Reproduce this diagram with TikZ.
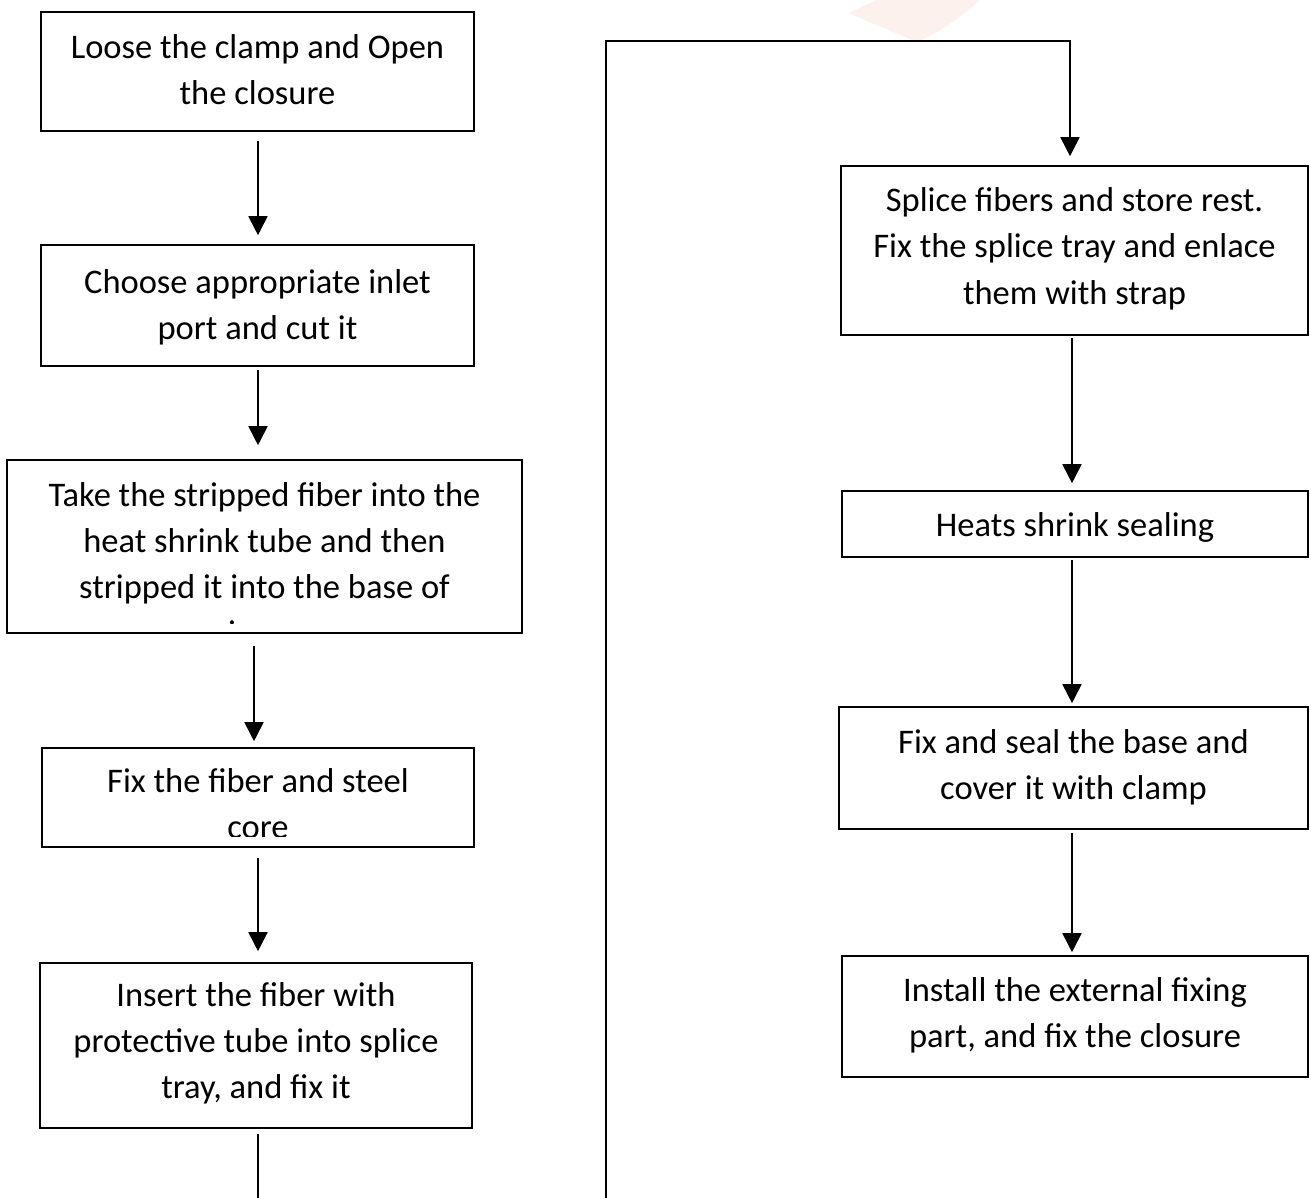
\documentclass[tikz,border=0pt]{standalone}
\usepackage{fontspec}
\setmainfont{Carlito}
\usetikzlibrary{arrows.meta}
\definecolor{wm}{RGB}{253,241,238}
\begin{document}
\begin{tikzpicture}[x=1pt,y=-1pt,
  box/.style={draw, line width=1.6pt, inner sep=0pt},
  txt/.style={anchor=base, inner sep=0pt, font=\fontsize{34.5}{46}\selectfont},
  conn/.style={line width=1.8pt},
  arr/.style={conn, -{Triangle[width=19pt,length=19pt]}}]
\clip (0,0) rectangle (1310,1198);
\fill[white] (0,0) rectangle (1310,1198);
% faint watermark
\fill[wm] (848,13) -- (877,0) -- (980,0) .. controls (960,18) and (940,32) .. (917,42) -- cycle;

% left column boxes
\node[box, minimum width=433pt, minimum height=119pt] (b1) at (257.5,71.5) {};
\node[box, minimum width=433pt, minimum height=121pt] (b2) at (257.5,305.5) {};
\node[box, minimum width=515pt, minimum height=173pt] (b3) at (264.5,546.5) {};
\node[box, minimum width=432pt, minimum height=99pt] (b4) at (258,797.5) {};
\node[box, minimum width=432pt, minimum height=165pt] (b5) at (256,1045.5) {};
% right column boxes
\node[box, minimum width=467pt, minimum height=169pt] (b6) at (1074.5,250.5) {};
\node[box, minimum width=466pt, minimum height=66pt] (b7) at (1075,524) {};
\node[box, minimum width=469pt, minimum height=122pt] (b8) at (1073.5,768) {};
\node[box, minimum width=466pt, minimum height=121pt] (b9) at (1075,1016.5) {};

% texts
\node[txt] (t1a) at (257.5,59) {Loose the clamp and Open};
\node[txt] (t1b) at (257.5,105) {the closure};
\node[txt] (t2a) at (257.5,294) {Choose appropriate inlet};
\node[txt] (t2b) at (257.5,340) {port and cut it};
\begin{scope}
\clip ([yshift=10pt]b3.south west) rectangle (b3.north east);
\node[txt] (t3a) at (264.5,506) {Take the stripped fiber into the};
\node[txt] (t3b) at (264.5,552) {heat shrink tube and then};
\node[txt] (t3c) at (264.5,598) {stripped it into the base of};
\node[txt] (t3d) at (232,644) {i};
\end{scope}
\begin{scope}
\clip ([yshift=11pt]b4.south west) rectangle (b4.north east);
\node[txt] (t4a) at (258,792) {Fix the fiber and steel};
\node[txt] (t4b) at (258,838) {core};
\end{scope}
\node[txt] (t5a) at (256,1006) {Insert the fiber with};
\node[txt] (t5b) at (256,1052) {protective tube into splice};
\node[txt] (t5c) at (256,1098) {tray, and fix it};
\node[txt] (t6a) at (1074.5,212) {Splice fibers and store rest.};
\node[txt] (t6b) at (1074.5,258) {Fix the splice tray and enlace};
\node[txt] (t6c) at (1074.5,305) {them with strap};
\node[txt] (t7a) at (1075,536) {Heats shrink sealing};
\node[txt] (t8a) at (1073.5,753) {Fix and seal the base and};
\node[txt] (t8b) at (1073.5,799) {cover it with clamp};
\node[txt] (t9a) at (1075,1001) {Install the external fixing};
\node[txt] (t9b) at (1075,1047) {part, and fix the closure};

% connectors
\draw[arr] ([xshift=0.5pt,yshift=-9pt]b1.south) -- ([xshift=0.5pt,yshift=9pt]b2.north);
\draw[arr] ([xshift=0.5pt,yshift=-3pt]b2.south) -- ([xshift=-6.5pt,yshift=14pt]b3.north);
\draw[arr] ([xshift=-10.5pt,yshift=-12pt]b3.south) -- ([xshift=-4pt,yshift=6pt]b4.north);
\draw[arr] ([yshift=-10pt]b4.south) -- ([xshift=2pt,yshift=11pt]b5.north);
\draw[arr] ([xshift=2pt,yshift=-5pt]b5.south) -- ++(0,100) -| (606,41) -| ([xshift=-4.5pt,yshift=9pt]b6.north);
\draw[arr] ([xshift=-2.5pt,yshift=-2pt]b6.south) -- ([xshift=-3pt,yshift=7pt]b7.north);
\draw[arr] ([xshift=-3pt,yshift=-2pt]b7.south) -- ([xshift=-1.5pt,yshift=3pt]b8.north);
\draw[arr] ([xshift=-1.5pt,yshift=-3pt]b8.south) -- ([xshift=-3pt,yshift=3pt]b9.north);
\end{tikzpicture}
\end{document}
